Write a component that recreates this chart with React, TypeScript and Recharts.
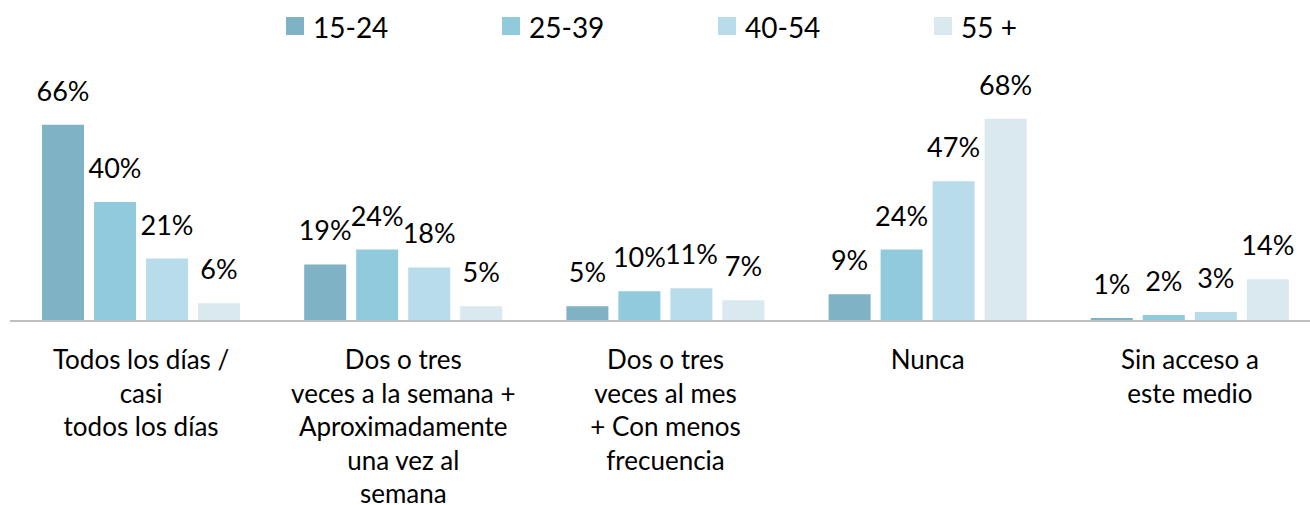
import { Bar, BarChart, LabelList, XAxis, YAxis } from "recharts";
import type { ReactElement } from "react";

const categories = [
  "Todos los días / casi todos los días",
  "Dos o tres veces a la semana + Aproximadamente una vez al semana",
  "Dos o tres veces al mes + Con menos frecuencia",
  "Nunca",
  "Sin acceso a este medio",
];

// line breaks as they appear under each group
const categoryLines = [
  ["Todos los días /", "casi", "todos los días"],
  ["Dos o tres", "veces a la semana +", "Aproximadamente", "una vez al", "semana"],
  ["Dos o tres", "veces al mes", "+ Con menos", "frecuencia"],
  ["Nunca"],
  ["Sin acceso a", "este medio"],
];

const seriesNames = ["15-24", "25-39", "40-54", "55 +"];
const age15to24 = [66, 19, 5, 9, 1];
const age25to39 = [40, 24, 10, 24, 2];
const age40to54 = [21, 18, 11, 47, 3];
const age55plus = [6, 5, 7, 68, 14];

const colors = ["#7FB2C5", "#92CADD", "#B8DCEA", "#DAE8EF"];
const FONT = "Lato, 'Open Sans', sans-serif";

const data = categories.map((name, i) => ({
  name,
  a: age15to24[i],
  b: age25to39[i],
  c: age40to54[i],
  d: age55plus[i],
}));
const keys = ["a", "b", "c", "d"];

function CategoryTick({ x, y, payload }: any): ReactElement {
  const lines = categoryLines[payload.index] ?? [payload.value];
  return (
    <text x={x} y={y} textAnchor="middle" fill="#000" fontSize={26} fontFamily={FONT}>
      {lines.map((line, i) => (
        <tspan key={i} x={x} dy={i === 0 ? 40 : 33.5}>
          {line}
        </tspan>
      ))}
    </text>
  );
}

function Legend(): ReactElement {
  return (
    <div style={{ position: "absolute", left: 286, top: 13, display: "flex", fontFamily: FONT }}>
      {seriesNames.map((name, i) => (
        <div key={name} style={{ width: 216, display: "flex", alignItems: "flex-start" }}>
          <span style={{ width: 18, height: 18, marginTop: 4, background: colors[i], display: "inline-block" }} />
          <span style={{ marginLeft: 9, fontSize: 28, lineHeight: "28px", color: "#000" }}>{name}</span>
        </div>
      ))}
    </div>
  );
}

export default function App(): ReactElement {
  return (
    <div
      style={{
        position: "fixed",
        left: 0,
        top: 0,
        width: 1310,
        height: 505,
        overflow: "hidden",
        background: "#fff",
      }}
    >
      <Legend />
      <BarChart
        width={1321}
        height={505}
        data={data}
        margin={{ top: 83, right: 0, bottom: 0, left: 10 }}
        barCategoryGap={32}
        barGap={10}
      >
        <XAxis
          dataKey="name"
          height={184}
          tickLine={false}
          axisLine={{ stroke: "#BFBFBF", strokeWidth: 2 }}
          tick={<CategoryTick />}
          interval={0}
        />
        <YAxis hide domain={[0, 80]} />
        {keys.map((k, i) => (
          <Bar key={k} dataKey={k} name={seriesNames[i]} fill={colors[i]} isAnimationActive={false}>
            <LabelList
              dataKey={k}
              position="top"
              offset={24}
              formatter={(v: any) => `${v}%`}
              style={{ fontSize: 27, fontFamily: FONT, fill: "#000" }}
            />
          </Bar>
        ))}
      </BarChart>
    </div>
  );
}
